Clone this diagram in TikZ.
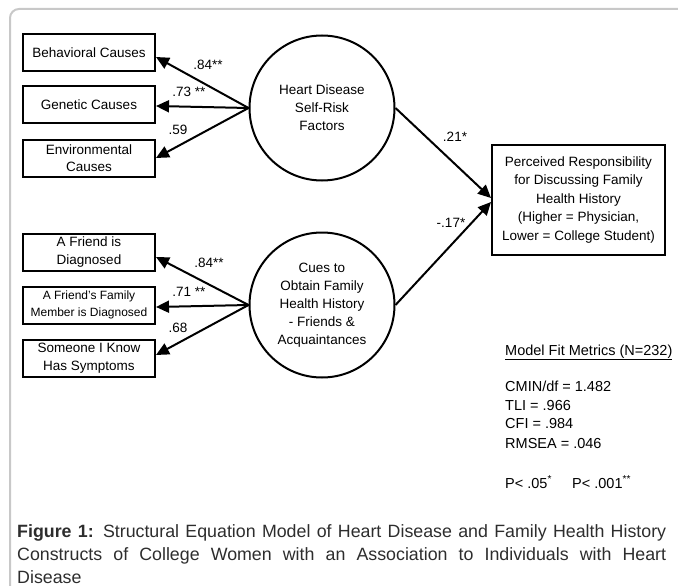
\documentclass[tikz,border=0pt]{standalone}
\usepackage{fontspec}
\setmainfont{Liberation Sans}
\usetikzlibrary{arrows.meta}
\definecolor{framegray}{RGB}{200,200,200}
\definecolor{captext}{RGB}{45,45,45}
\begin{document}
\begin{tikzpicture}[x=1pt,y=-1pt,
  obs/.style={draw, line width=2pt, minimum width=132pt, minimum height=37pt, inner sep=0pt, align=center, font=\fontsize{13.5}{18}\selectfont},
  lat/.style={draw, circle, line width=2pt, minimum size=145pt, inner sep=0pt, align=center, font=\fontsize{13.5}{18}\selectfont},
  outbox/.style={draw, line width=2pt, minimum width=173pt, minimum height=110pt, inner sep=0pt, align=center, font=\fontsize{13.5}{18.5}\selectfont},
  arr/.style={line width=2pt, -{Triangle[length=13pt,width=12pt]}},
  lbl/.style={font=\fontsize{13.5}{16}\selectfont, inner sep=0pt},
  fit/.style={font=\fontsize{14.5}{16}\selectfont, inner sep=0pt, anchor=base west},
]
\useasboundingbox (0,0) rectangle (678,586);
\draw[framegray, line width=2pt, rounded corners=9pt] (10,9) rectangle (700,594);

% indicators of latent 1
\node[obs] (beh) at (89,52.5) {Behavioral Causes};
\node[obs] (gen) at (89,104.5) {Genetic Causes};
\node[obs, font=\fontsize{13.5}{17}\selectfont] (env) at (89,158) {Environmental\\Causes};
\node[lat] (c1) at (322,108) {Heart Disease\\Self-Risk\\Factors};

% indicators of latent 2
\node[obs] (fr) at (89,252.5) {A Friend is\\Diagnosed};
\node[obs, font=\fontsize{12}{16.5}\selectfont] (ff) at (89,305) {A Friend's Family\\Member is Diagnosed};
\node[obs] (so) at (89,358) {Someone I Know\\Has Symptoms};
\node[lat] (c2) at (322,305) {Cues to\\Obtain Family\\Health History\\- Friends \&\\Acquaintances};

% outcome
\node[outbox] (out) at (578.5,200) {Perceived Responsibility\\for Discussing Family\\Health History\\(Higher = Physician,\\Lower = College Student)};

% connectors
\draw[arr] (c1.west) -- ([yshift=-4.5pt]beh.east);
\draw[arr] (c1.west) -- ([yshift=-1.5pt]gen.east);
\draw[arr] (c1.west) -- (env.east);
\draw[arr] (c2.west) -- ([yshift=-4.5pt]fr.east);
\draw[arr] (c2.west) -- ([yshift=-2pt]ff.east);
\draw[arr] (c2.west) -- ([yshift=3pt]so.east);
\draw[arr] (c1.east) -- ([yshift=2pt]out.west);
\draw[arr] (c2.east) -- ([yshift=-2pt]out.west);

% path labels
\node[lbl] (l1) at (208,65) {.84**};
\node[lbl] (l2) at (189,92) {.73 **};
\node[lbl] (l3) at (178,130) {.59};
\node[lbl] (l4) at (209,263) {.84**};
\node[lbl] (l5) at (189,292) {.71 **};
\node[lbl] (l6) at (178,328) {.68};
\node[lbl] (l7) at (455,137) {.21*};
\node[lbl] (l8) at (451,223) {-.17*};

% model fit
\node[fit] (m0) at (505,355) {\underline{Model Fit Metrics (N=232)}};
\node[fit] (m1) at (505,391) {CMIN/df = 1.482};
\node[fit] (m2) at (505,410) {TLI = .966};
\node[fit] (m3) at (505,428) {CFI = .984};
\node[fit] (m4) at (505,448) {RMSEA = .046};
\node[fit] (p1) at (505,488) {P< .05\textsuperscript{*}};
\node[fit] (p2) at (572,488) {P< .001\textsuperscript{**}};

% caption
\node[anchor=base west, text width=649pt, align=justify, inner sep=0pt, text=captext,
      font=\fontsize{17.8}{23}\selectfont] (cap) at (17,537)
  {\textbf{Figure 1:} Structural Equation Model of Heart Disease and Family Health History\linebreak
   Constructs of College Women with an Association to Individuals with Heart\linebreak Disease};
\end{tikzpicture}
\end{document}
